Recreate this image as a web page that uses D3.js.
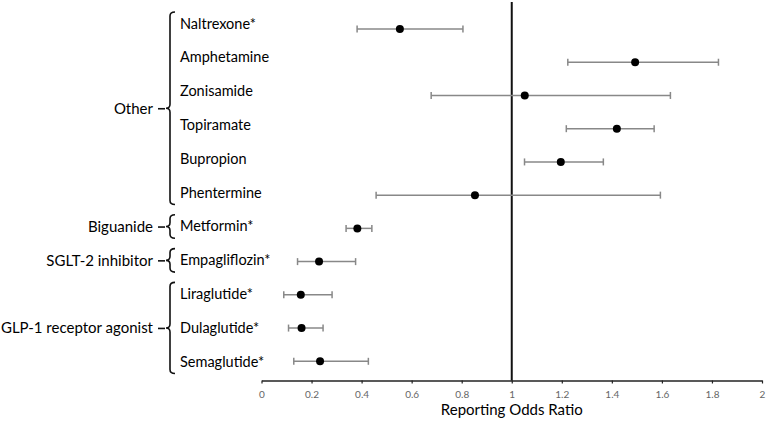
<!DOCTYPE html>
<html><head><meta charset="utf-8">
<script src="https://cdn.jsdelivr.net/npm/d3@7"></script>
<style>body{margin:0;background:#fff;}svg{display:block;}</style>
</head><body>
<svg id="c" width="768" height="430"></svg>
<script>
const drugs = ["Naltrexone*","Amphetamine","Zonisamide","Topiramate","Bupropion","Phentermine","Metformin*","Empagliflozin*","Liraglutide*","Dulaglutide*","Semaglutide*"];
const ror   = [0.553, 1.493, 1.052, 1.420, 1.196, 0.853, 0.383, 0.230, 0.157, 0.160, 0.234];
const lower = [0.382, 1.224, 0.678, 1.218, 1.051, 0.458, 0.338, 0.144, 0.089, 0.108, 0.129];
const upper = [0.805, 1.826, 1.634, 1.569, 1.366, 1.594, 0.441, 0.376, 0.282, 0.246, 0.427];
const groups = ["Other","Biguanide","SGLT-2 inhibitor","GLP-1 receptor agonist"];
const groupFirst = ["Naltrexone*","Metformin*","Empagliflozin*","Liraglutide*"];
const groupLast  = ["Phentermine","Metformin*","Empagliflozin*","Semaglutide*"];
const xTicks = [0,0.2,0.4,0.6,0.8,1,1.2,1.4,1.6,1.8,2];
const xTitle = "Reporting Odds Ratio";

const svg = d3.select("#c");
const font = "Lato, 'Open Sans', sans-serif";
const x = d3.scaleLinear().domain([0,2]).range([261.5,762]);
const yDot = d3.scalePoint().domain(drugs).range([29,361.3]);
const yLab = d3.scalePoint().domain(drugs).range([23.5,361.5]);
const axisY = 380.5;

// axis
const ax = svg.append("g").attr("transform",`translate(0,${axisY})`)
  .call(d3.axisBottom(x).tickValues(xTicks).tickFormat(d3.format("")).tickSize(3).tickSizeOuter(0));
ax.select(".domain").attr("stroke","#222").attr("stroke-width",1.5);
ax.selectAll(".tick line").attr("stroke","#222").attr("stroke-width",1.2);
ax.selectAll(".tick text").attr("fill","#666").attr("font-family",font).attr("font-size",10).attr("dy","1.1em");
svg.append("text").attr("x",x(1)).attr("y",415).attr("text-anchor","middle")
  .attr("font-family",font).attr("font-size",15).attr("fill","#000").text(xTitle);

// reference line
svg.append("line").attr("x1",x(1)).attr("x2",x(1)).attr("y1",2).attr("y2",axisY)
  .attr("stroke","#111").attr("stroke-width",2);

// error bars
const rows = drugs.map((d,i)=>({d, v:ror[i], lo:lower[i], hi:upper[i]}));
const g = svg.append("g");
g.selectAll("line.eb").data(rows).join("line").attr("class","eb")
  .attr("x1",r=>x(r.lo)).attr("x2",r=>x(r.hi)).attr("y1",r=>yDot(r.d)).attr("y2",r=>yDot(r.d))
  .attr("stroke","#888").attr("stroke-width",1.5);
["lo","hi"].forEach(k=>{
  g.selectAll("line.cap"+k).data(rows).join("line").attr("class","cap"+k)
    .attr("x1",r=>x(r[k])).attr("x2",r=>x(r[k])).attr("y1",r=>yDot(r.d)-3.5).attr("y2",r=>yDot(r.d)+3.5)
    .attr("stroke","#888").attr("stroke-width",1.5);
});
g.selectAll("circle").data(rows).join("circle")
  .attr("cx",r=>x(r.v)).attr("cy",r=>yDot(r.d)).attr("r",4).attr("fill","#000");

// drug labels
svg.selectAll("text.drug").data(drugs).join("text").attr("class","drug")
  .attr("x",180).attr("y",d=>yLab(d)).attr("dy","0.35em")
  .attr("font-family",font).attr("font-size",14.5).attr("fill","#000").text(d=>d);

// braces and group labels
const bx = 170;
groups.forEach((gname,i)=>{
  const y1 = yLab(groupFirst[i]) - 11.5, y2 = yLab(groupLast[i]) + 12;
  const ym = (y1+y2)/2;
  const r = 4;
  const p = `M${bx+5},${y1} Q${bx},${y1} ${bx},${y1+r} L${bx},${ym-r} Q${bx},${ym} ${bx-4},${ym} Q${bx},${ym} ${bx},${ym+r} L${bx},${y2-r} Q${bx},${y2} ${bx+5},${y2}`;
  svg.append("path").attr("d",p).attr("fill","none").attr("stroke","#111").attr("stroke-width",1.6);
  svg.append("line").attr("x1",bx-12).attr("x2",bx-5).attr("y1",ym+0.5).attr("y2",ym+0.5)
    .attr("stroke","#111").attr("stroke-width",1.6);
  svg.append("text").attr("x",bx-17).attr("y",ym).attr("dy","0.35em").attr("text-anchor","end")
    .attr("font-family",font).attr("font-size",15).attr("fill","#000").text(gname);
});
</script>
</body></html>
